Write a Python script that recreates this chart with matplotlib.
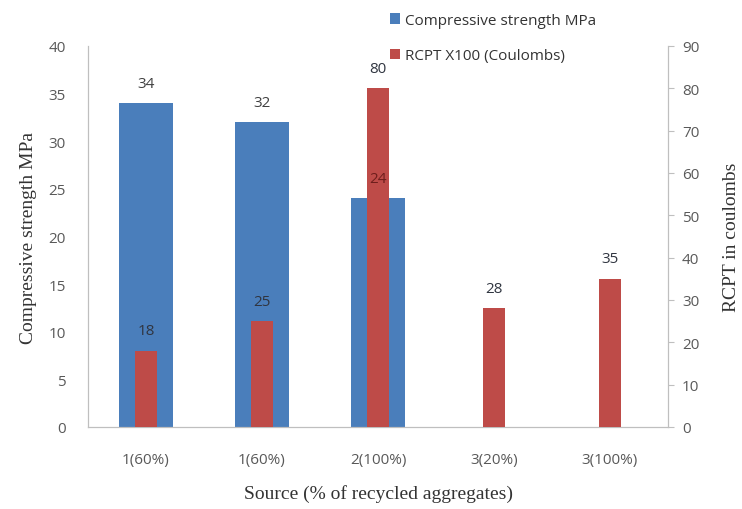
import numpy as np
import matplotlib.pyplot as plt

# Compressive strength and RCPT by source of recycled aggregate
sources = ["1(60%)", "1(60%)", "2(100%)", "3(20%)", "3(100%)"]
strength = [34, 32, 24, 0, 0]
rcpt = [18, 25, 80, 28, 35]

blue = "#4A7EBB"
red = "#BE4B48"
grey = "#595959"
axis_grey = "#BFBFBF"

fig = plt.figure(figsize=(7.42, 5.10), dpi=100)
ax = fig.add_axes([88 / 742, 1 - 428 / 510, 580 / 742, 381 / 510])
ax2 = ax.twinx()

x = np.arange(len(sources))
b1 = ax.bar(x, strength, width=0.47, color=blue, zorder=2)
b2 = ax2.bar(x, rcpt, width=0.19, color=red, zorder=3)

# value labels go on the top axes so they stay above both bar sets
ratio = 90 / 40
for xi, v, r in zip(x, strength, rcpt):
    if v > 0:
        # a label that lands on a red bar is darkened to match it
        col = "#6E1E1C" if r > v * ratio + 4 else "#404040"
        ax2.annotate(str(v), (xi, v * ratio), xytext=(0, 9),
                     textcoords="offset points", ha="center", va="bottom",
                     fontsize=11, color=col, family="Open Sans", zorder=5)
for xi, v in zip(x, rcpt):
    ax2.annotate(str(v), (xi, v), xytext=(0, 9), textcoords="offset points",
                 ha="center", va="bottom", fontsize=11, color="#303540",
                 family="Open Sans", zorder=5)

ax.set_xlim(-0.5, 4.5)
ax.set_ylim(0, 40)
ax.set_yticks(range(0, 41, 5))
ax2.set_ylim(0, 90)
ax2.set_yticks(range(0, 91, 10))

ax.set_xticks(x)
ax.set_xticklabels(sources)

for a in (ax, ax2):
    for s in a.spines.values():
        s.set_color(axis_grey)
    a.spines["top"].set_visible(False)

ax.tick_params(axis="y", length=0, pad=16, labelsize=11, labelcolor=grey)
ax.tick_params(axis="x", length=0, pad=18, labelsize=11, labelcolor=grey)
ax2.tick_params(axis="y", length=4, color=axis_grey, pad=6, labelsize=11,
                labelcolor=grey)
for lab in ax.get_xticklabels() + ax.get_yticklabels() + ax2.get_yticklabels():
    lab.set_family("Open Sans")

ax.set_ylabel("Compressive strength MPa", family="Liberation Serif",
              fontsize=14, color="#333333", labelpad=8)
ax2.set_ylabel("RCPT in coulombs", family="Liberation Serif",
               fontsize=14, color="#333333", labelpad=17)
ax.set_xlabel("Source (% of recycled aggregates)", family="Liberation Serif",
              fontsize=14, color="#333333", labelpad=12)

fig.legend([b1, b2], ["Compressive strength MPa", "RCPT X100 (Coulombs)"],
           loc="upper left", bbox_to_anchor=(376 / 742, 1.0), frameon=False,
           handlelength=0.7, handleheight=0.7, handletextpad=0.3,
           labelspacing=1.35, prop={"family": "Open Sans", "size": 11},
           labelcolor="#333333")

fig.savefig("out.png", dpi=100)
